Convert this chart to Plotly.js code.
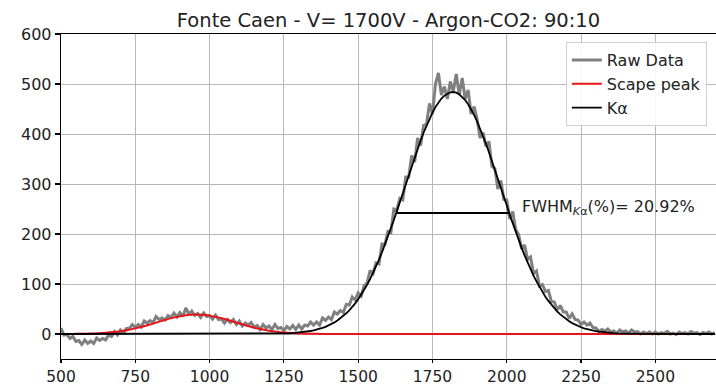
<!DOCTYPE html>
<html>
<head>
<meta charset="utf-8">
<script src="https://cdn.plot.ly/plotly-3.0.1.min.js"></script>
<style>html,body{margin:0;padding:0;background:#fff;}#chart{width:716px;height:384px;}</style>
</head>
<body>
<div id="chart"></div>
<script>
// ---- Data ----
const rawStart = 500, rawStep = 10;
const rawCounts = [
  12, -2, -1, -9, -5, -15, -13, -21, -12, -19,
  -14, -19, -8, -13, -9, -12, -2, -5, 5, -2,
  8, 2, 11, 11, 19, 13, 19, 14, 26, 22,
  27, 23, 35, 29, 32, 28, 37, 33, 42, 34,
  43, 35, 52, 40, 46, 37, 41, 33, 42, 35,
  37, 30, 38, 29, 30, 22, 29, 23, 29, 19,
  26, 16, 22, 18, 23, 14, 17, 9, 19, 12,
  16, 9, 19, 11, 13, 7, 15, 10, 17, 9,
  18, 10, 18, 16, 24, 18, 24, 18, 32, 27,
  34, 29, 44, 40, 47, 43, 59, 58, 74, 68,
  82, 76, 97, 102, 127, 121, 142, 140, 180, 179,
  205, 203, 250, 248, 271, 268, 314, 314, 357, 344,
  392, 377, 417, 420, 461, 440, 500, 522, 478, 495,
  470, 505, 485, 520, 478, 512, 470, 488, 440, 455,
  430, 392, 403, 375, 385, 335, 331, 290, 307, 269,
  268, 230, 245, 209, 199, 170, 178, 149, 154, 121,
  126, 96, 99, 85, 87, 65, 64, 48, 57, 44,
  44, 31, 40, 29, 28, 19, 24, 18, 22, 13,
  12, 5, 9, 6, 10, 4, 6, 1, 8, 4,
  6, 2, 8, 4, 5, 0, 4, 1, 4, 0,
  4, 0, 3, 1, 5, 0, 2, -1, 4, 1,
  3, 0, 5, 2, 3, -1, 3, 1, 4, 0, 3
];

const scapeX = [500, 525, 550, 575, 600, 625, 650, 675, 700, 725, 750, 775, 800, 825, 850, 875, 900, 925, 950,
  975, 1000, 1025, 1050, 1075, 1100, 1125, 1150, 1175, 1200, 1225, 1250, 1275, 1300, 1325, 1350, 1375, 1400, 1500, 2700];
const scapeY = [0.09, 0.16, 0.30, 0.54, 0.94, 1.56, 2.49, 3.83, 5.69, 8.15, 11.25, 14.95, 19.16, 23.65, 28.15, 32.27, 35.66, 37.97, 39.0,
  38.5, 36.7, 33.7, 29.86, 25.47, 20.9, 16.6, 12.66, 9.3, 6.6, 4.5, 2.97, 1.88, 1.16, 0.68, 0.39, 0.21, 0.11, 0, 0];

const kaHeadX = [500, 1100];
const kaHeadY = [0, 0.02];
const kaGridStart = 1200, kaGridStep = 10;
const kaGridY = [
  0.3, 0.4, 0.5, 0.6, 0.8, 1.0, 1.2, 1.5, 1.8, 2.3,
  2.8, 3.4, 4.1, 5.0, 6.0, 7.2, 8.6, 10.3, 12.2, 14.4,
  16.9, 19.9, 23.2, 27.0, 31.2, 36.0, 41.4, 47.4, 54.0, 61.3,
  69.5, 78.4, 88.0, 98.5, 109.8, 121.9, 134.9, 148.6, 163.2, 178.4,
  194.4, 211.0, 228.1, 245.6, 263.5, 281.6, 299.7, 317.9, 335.8, 353.4,
  370.5, 386.9, 402.5, 417.2, 430.7, 442.9, 453.8, 463.0, 470.8, 476.8,
  481.0, 483.4, 484.0, 482.7, 479.5, 474.6, 467.9, 459.5, 449.6, 438.2,
  425.4, 411.4, 396.4, 380.4, 363.6, 346.4, 328.8, 311.0, 292.9, 274.8,
  256.9, 238.3, 221.0, 204.1, 187.9, 172.2, 157.2, 143.0, 129.6, 116.9,
  105.2, 94.2, 84.0, 74.7, 66.1, 58.3, 51.3, 44.9, 39.2, 34.0,
  29.4, 25.4, 21.8, 18.6, 15.9, 13.5, 11.4, 9.6, 8.1, 6.7,
  5.6, 4.6, 3.8, 3.1, 2.6, 2.1, 1.7, 1.4, 1.1, 0.9,
  0.7, 0.55, 0.44, 0.35, 0.27, 0.21, 0.17, 0.13, 0.10, 0.08,
  0.06
];
const kaTailX = [2600, 2700];
const kaTailY = [0, 0];

const fwhmX = [1628, 2008];
const fwhmY = [242, 242];
const fwhmLabel = 'FWHM<sub><i>K</i>α</sub>(%)= 20.92%';
const fwhmLabelPos = {x: 2045, y: 254};

const titleText = 'Fonte Caen - V= 1700V - Argon-CO2: 90:10';
const legendNames = ['Raw Data', 'Scape peak', 'Kα'];
const xTicks = [500, 750, 1000, 1250, 1500, 1750, 2000, 2250, 2500];
const yTicks = [0, 100, 200, 300, 400, 500, 600];

// ---- Build traces ----
const rawX = rawCounts.map((_, i) => rawStart + i * rawStep);
const kaGridX = kaGridY.map((_, i) => kaGridStart + i * kaGridStep);
const kaX = kaHeadX.concat(kaGridX, kaTailX);
const kaY = kaHeadY.concat(kaGridY, kaTailY);

const FONT = 'DejaVu Sans, Liberation Sans, sans-serif';

const traces = [
  {x: rawX, y: rawCounts, type: 'scatter', mode: 'lines', name: legendNames[0],
   line: {color: '#808080', width: 3}},
  {x: scapeX, y: scapeY, type: 'scatter', mode: 'lines', name: legendNames[1],
   line: {color: '#e8141a', width: 2, shape: 'spline'}},
  {x: kaX, y: kaY, type: 'scatter', mode: 'lines', name: legendNames[2],
   line: {color: '#000000', width: 1.8}},
  {x: fwhmX, y: fwhmY, type: 'scatter', mode: 'lines', showlegend: false,
   line: {color: '#000000', width: 1.8}}
];

const layout = {
  width: 716, height: 384,
  margin: {l: 61, r: 0, t: 34, b: 25},
  paper_bgcolor: '#ffffff', plot_bgcolor: '#ffffff',
  font: {family: FONT, size: 16, color: '#222222'},
  title: {text: titleText, x: 0.5, xref: 'paper', xanchor: 'center',
          y: 0.948, yref: 'container', yanchor: 'middle',
          font: {family: FONT, size: 19.5, color: '#222222'}},
  showlegend: true,
  legend: {x: 0.986, xanchor: 'right', y: 0.975, yanchor: 'top',
           bgcolor: 'rgba(255,255,255,0.85)', bordercolor: '#d0d0d0', borderwidth: 1,
           font: {family: FONT, size: 16, color: '#222222'}, tracegroupgap: 0},
  xaxis: {range: [500, 2704], tickvals: xTicks, ticktext: xTicks.map(String),
          showgrid: true, gridcolor: '#b8b8b8', gridwidth: 1,
          zeroline: false, showline: true, linecolor: '#000000', linewidth: 1.3, mirror: true,
          ticks: 'outside', ticklen: 3, tickcolor: '#000000', tickwidth: 1.2,
          tickfont: {family: FONT, size: 15.5, color: '#222222'}},
  yaxis: {range: [-50, 600], tickvals: yTicks, ticktext: yTicks.map(String),
          showgrid: true, gridcolor: '#b8b8b8', gridwidth: 1,
          zeroline: false, showline: true, linecolor: '#000000', linewidth: 1.3, mirror: false,
          ticks: 'outside', ticklen: 5, tickcolor: '#000000', tickwidth: 1.2,
          tickfont: {family: FONT, size: 16, color: '#222222'}},
  annotations: [{x: fwhmLabelPos.x, y: fwhmLabelPos.y, xref: 'x', yref: 'y',
                 text: fwhmLabel, showarrow: false, xanchor: 'left', yanchor: 'middle',
                 font: {family: FONT, size: 16, color: '#222222'}}]
};

Plotly.newPlot('chart', traces, layout, {displayModeBar: false, staticPlot: true});
</script>
</body>
</html>
